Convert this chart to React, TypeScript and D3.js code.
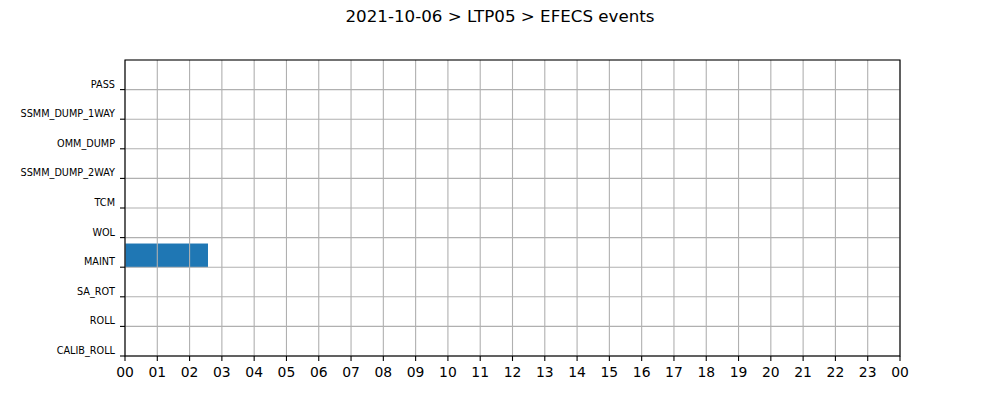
import React from "react";
import * as d3 from "d3";

const title = "2021-10-06 > LTP05 > EFECS events";
const categories = ["CALIB_ROLL", "ROLL", "SA_ROT", "MAINT", "WOL", "TCM", "SSMM_DUMP_2WAY", "OMM_DUMP", "SSMM_DUMP_1WAY", "PASS"];
// events: category, start hour, end hour
const eventCats = ["MAINT"];
const eventStarts = [0];
const eventEnds = [2.57];
const hourTicks = d3.range(0, 25);
const hourLabels = hourTicks.map((h) => String(h % 24).padStart(2, "0"));

export default function App() {
  const W = 1000, H = 400;
  const left = 125, right = 900, top = 60, bottom = 356;
  const x = d3.scaleLinear().domain([0, 24]).range([left, right]);
  const y = d3.scaleLinear().domain([0, categories.length]).range([bottom, top]);
  const font = "'DejaVu Sans', sans-serif";
  return (
    <svg width={W} height={H} style={{ position: "absolute", left: 0, top: 0, background: "#fff" }} fontFamily={font}>
      <rect x={0} y={0} width={W} height={H} fill="#fff" />
      {eventCats.map((c, i) => {
        const idx = categories.indexOf(c);
        return (
          <rect key={i} x={x(eventStarts[i])} width={x(eventEnds[i]) - x(eventStarts[i])}
            y={y(idx + 0.8)} height={y(idx) - y(idx + 0.8)} fill="#1f77b4" />
        );
      })}
      {hourTicks.map((h) => (
        <line key={"gx" + h} x1={x(h)} x2={x(h)} y1={top} y2={bottom} stroke="#b0b0b0" strokeWidth={1.1} />
      ))}
      {categories.map((c, i) => (
        <line key={"gy" + i} x1={left} x2={right} y1={y(i)} y2={y(i)} stroke="#b0b0b0" strokeWidth={1.1} />
      ))}
      <rect x={left} y={top} width={right - left} height={bottom - top} fill="none" stroke="#000" strokeWidth={1.1} />
      {hourTicks.map((h, i) => (
        <g key={"tx" + h}>
          <line x1={x(h)} x2={x(h)} y1={bottom} y2={bottom + 5} stroke="#000" strokeWidth={1.1} />
          <text x={x(h)} y={bottom + 21} textAnchor="middle" fontSize={13.9} fill="#000">{hourLabels[i]}</text>
        </g>
      ))}
      {categories.map((c, i) => (
        <g key={"ty" + i}>
          <line x1={left - 5} x2={left} y1={y(i)} y2={y(i)} stroke="#000" strokeWidth={1.1} />
          <text x={left - 10} y={y(i) - 2} textAnchor="end" fontSize={9.7} fill="#000">{c}</text>
        </g>
      ))}
      <text x={W / 2} y={22} textAnchor="middle" fontSize={16.7} fill="#000">{title}</text>
    </svg>
  );
}
